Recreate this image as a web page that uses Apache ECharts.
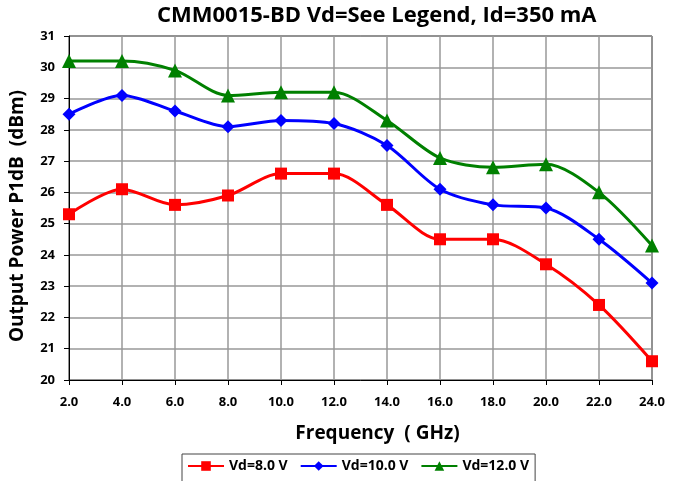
<!DOCTYPE html>
<html>
<head>
<meta charset="utf-8">
<script src="https://cdn.jsdelivr.net/npm/echarts@6/dist/echarts.min.js"></script>
<style>
  html, body { margin: 0; padding: 0; background: #fff; }
  #chart { width: 674px; height: 481px; }
</style>
</head>
<body>
<div id="chart"></div>
<script>
// frequency points (GHz)
var freq = [2, 4, 6, 8, 10, 12, 14, 16, 18, 20, 22, 24];
// P1dB (dBm) for each drain voltage
var vd8 = [25.3, 26.1, 25.6, 25.9, 26.6, 26.6, 25.6, 24.5, 24.5, 23.7, 22.4, 20.6];
var vd10 = [28.5, 29.1, 28.6, 28.1, 28.3, 28.2, 27.5, 26.1, 25.6, 25.5, 24.5, 23.1];
var vd12 = [30.2, 30.2, 29.9, 29.1, 29.2, 29.2, 28.3, 27.1, 26.8, 26.9, 26.0, 24.3];
var seriesNames = ['Vd=8.0 V', 'Vd=10.0 V', 'Vd=12.0 V'];

function pairs(ys) {
    return freq.map(function (f, i) { return [f, ys[i]]; });
}

var chart = echarts.init(document.getElementById('chart'));
var font = '"Open Sans", "DejaVu Sans", sans-serif';

function line(name, ys, color, symbol, size) {
    return {
        name: name,
        type: 'line',
        data: pairs(ys),
        smooth: 0.3,
        symbol: symbol,
        symbolSize: size,
        lineStyle: { color: color, width: 3 },
        itemStyle: { color: color },
        z: 3
    };
}

var option = {
    animation: false,
    textStyle: { fontFamily: font },
    title: {
        text: 'CMM0015-BD Vd=See Legend, Id=350 mA',
        left: 152,
        top: 0,
        textStyle: { fontFamily: font, fontSize: 22, fontWeight: 'bold', color: '#000' }
    },
    grid: { left: 67, right: 22, top: 36, bottom: 101, show: true, borderColor: '#000', borderWidth: 1 },
    legend: {
        data: seriesNames,
        top: 454,
        left: 182,
        itemWidth: 36,
        itemHeight: 12,
        itemGap: 12,
        padding: [5, 6, 12, 5],
        borderColor: '#444',
        borderWidth: 1,
        textStyle: { fontFamily: font, fontSize: 14, fontWeight: 'bold', color: '#000' }
    },
    xAxis: {
        type: 'value',
        min: 2,
        max: 24,
        interval: 2,
        name: 'Frequency  ( GHz)',
        nameLocation: 'middle',
        nameGap: 44,
        nameTextStyle: { fontFamily: font, fontSize: 19, fontWeight: 'bold', color: '#000', padding: [0, 0, 0, 34] },
        axisLine: { lineStyle: { color: '#000', width: 1 } },
        axisTick: { show: true, length: 5, lineStyle: { color: '#000' } },
        axisLabel: {
            margin: 16,
            fontFamily: font, fontSize: 13, fontWeight: 'bold', color: '#000',
            formatter: function (v) { return v.toFixed(1); }
        },
        splitLine: { show: true, lineStyle: { color: '#999', width: 1.5 } }
    },
    yAxis: {
        type: 'value',
        min: 20,
        max: 31,
        interval: 1,
        name: 'Output Power P1dB  (dBm)',
        nameLocation: 'middle',
        nameGap: 42,
        nameTextStyle: { fontFamily: font, fontSize: 19, fontWeight: 'bold', color: '#000', padding: [0, 16, 0, 0] },
        axisLine: { show: true, lineStyle: { color: '#000', width: 1 } },
        axisTick: { show: true, length: 5, lineStyle: { color: '#000' } },
        axisLabel: { margin: 14, fontFamily: font, fontSize: 13, fontWeight: 'bold', color: '#000' },
        splitLine: { show: true, lineStyle: { color: '#999', width: 1.5 } }
    },
    series: [
        line(seriesNames[0], vd8, '#ff0000', 'rect', 12),
        line(seriesNames[1], vd10, '#0000ff', 'diamond', 13),
        line(seriesNames[2], vd12, '#008000', 'triangle', 14)
    ]
};

chart.setOption(option);
</script>
</body>
</html>
